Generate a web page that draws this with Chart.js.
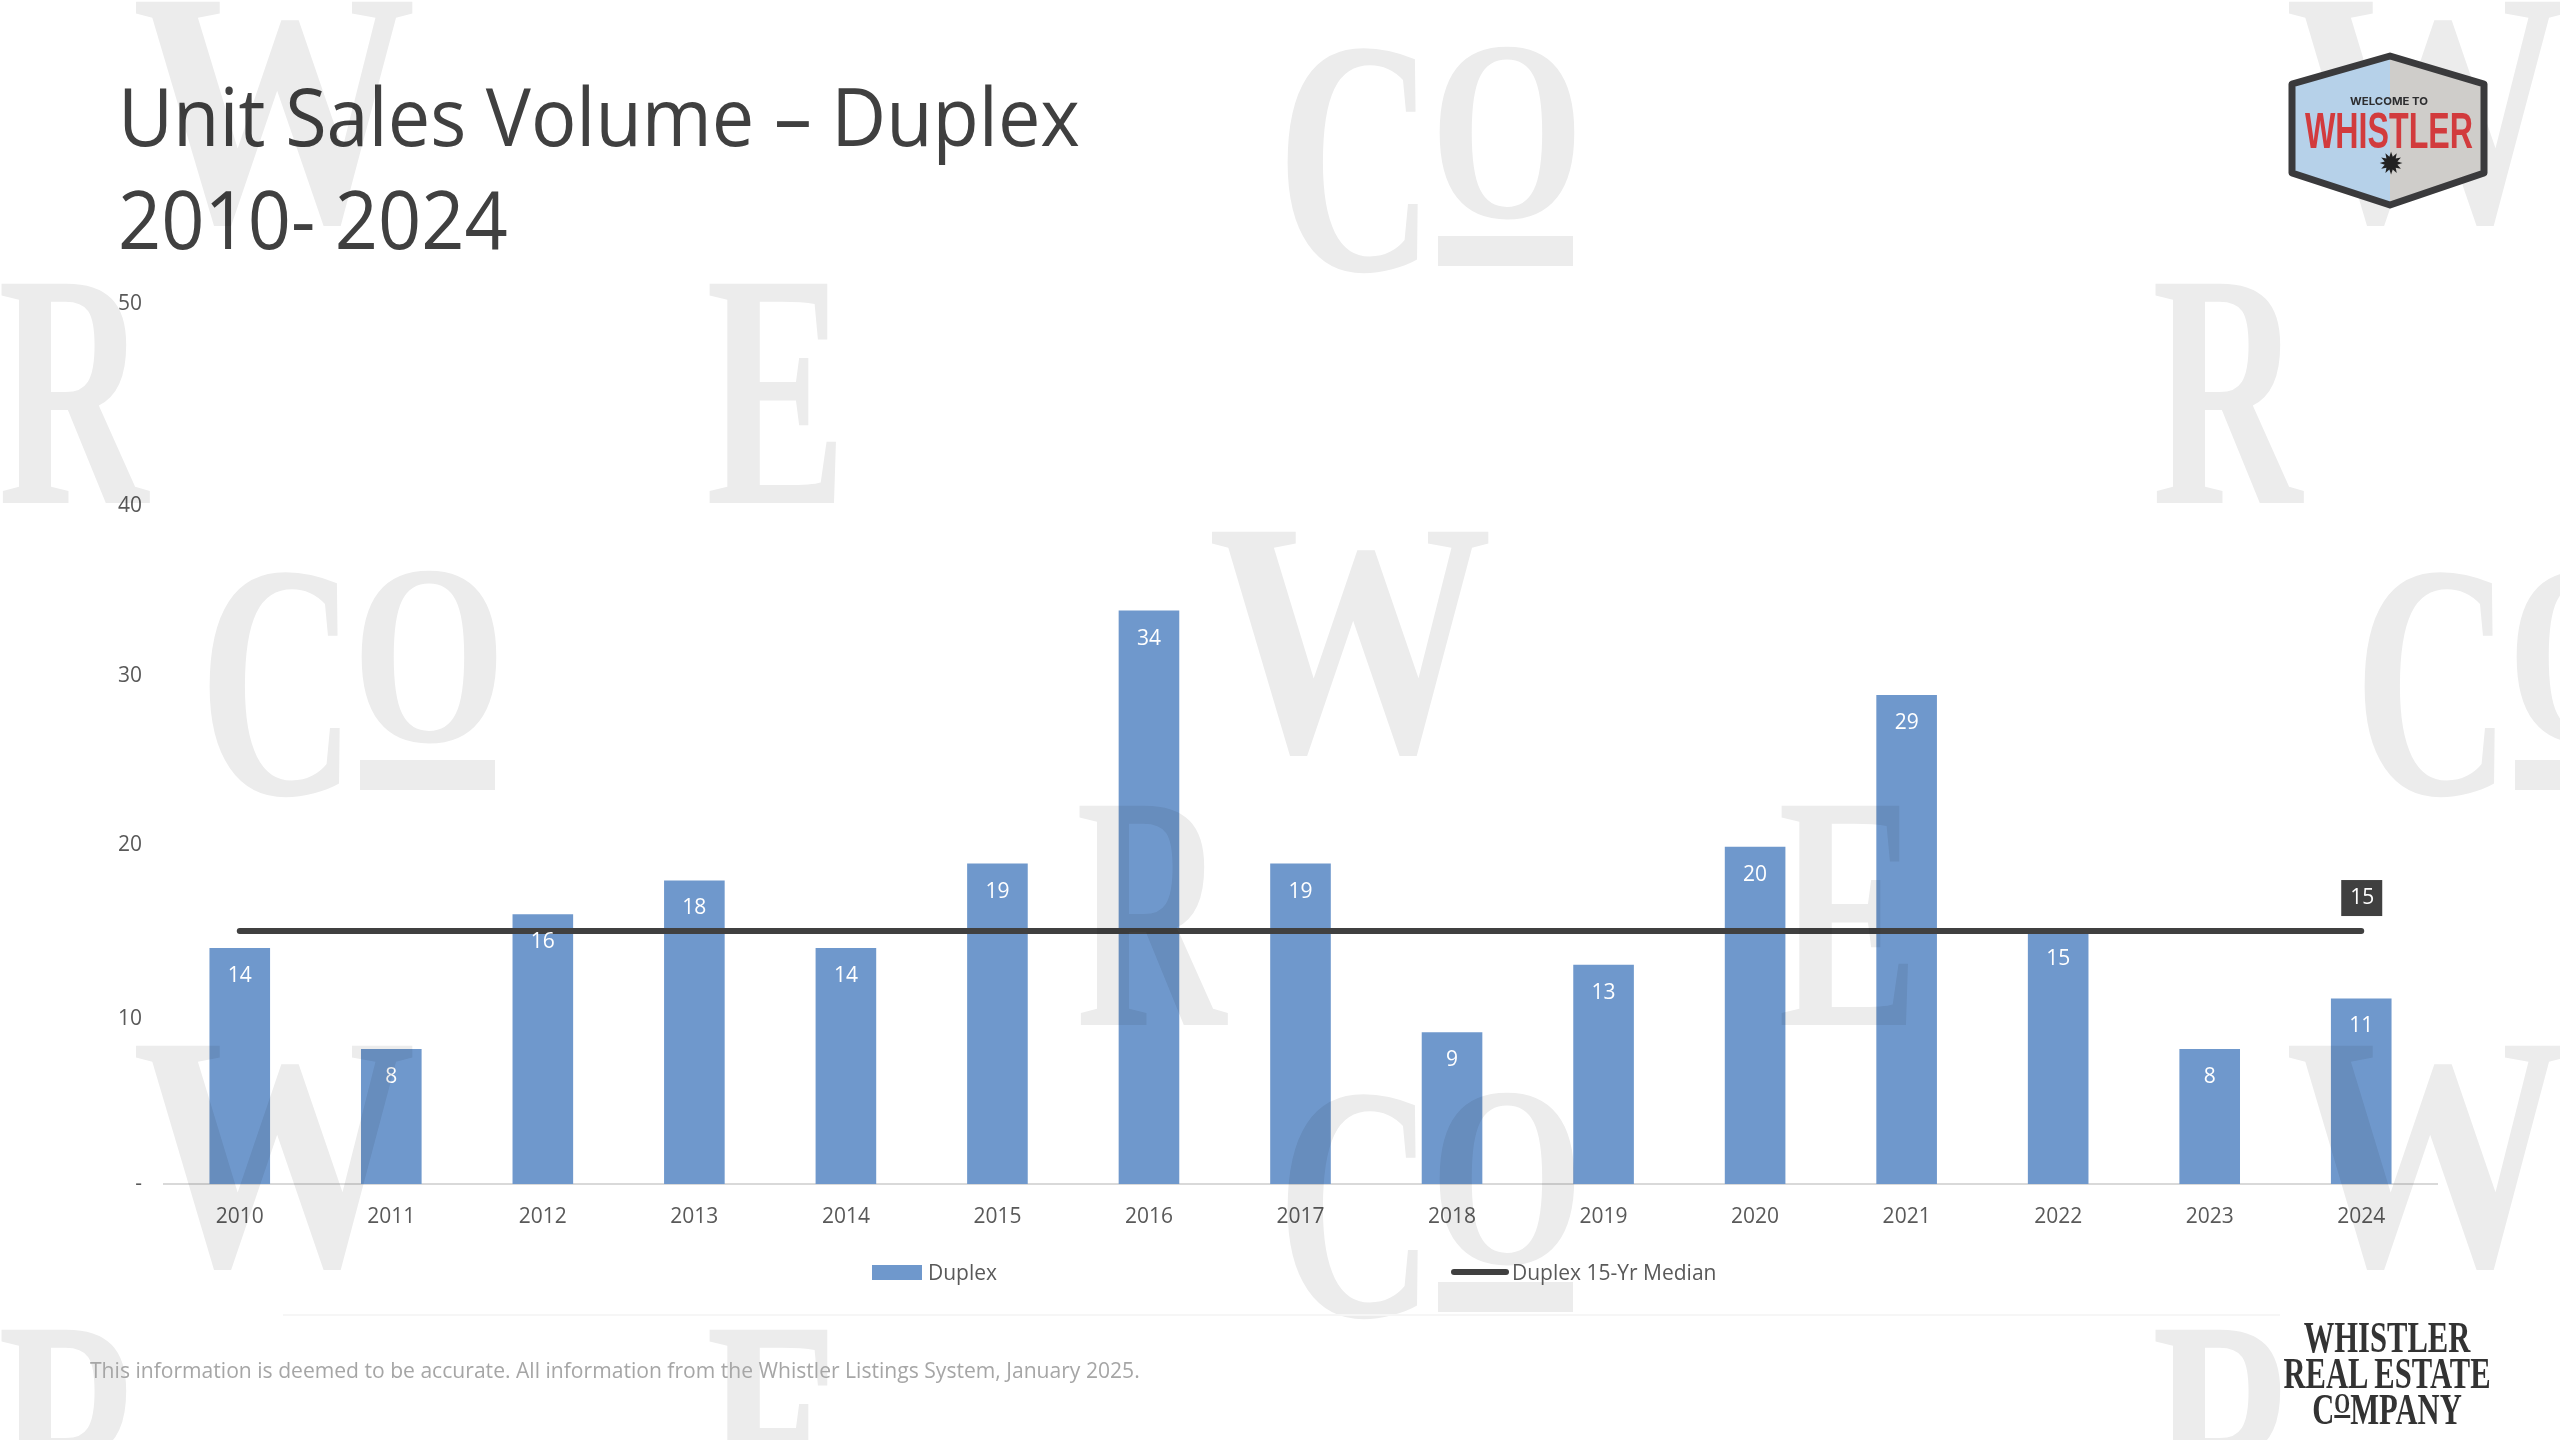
<!DOCTYPE html>
<html>
<head>
<meta charset="utf-8">
<title>Unit Sales Volume - Duplex</title>
<script src="https://cdn.jsdelivr.net/npm/chart.js@4"></script>
<style>
    html, body { margin: 0; padding: 0; background: #fff; overflow: hidden; }
    #page { position: relative; width: 2560px; height: 1440px; overflow: hidden; font-family: "Open Sans", sans-serif; }
    #chartBox { position: absolute; left: 0; top: 0; width: 2560px; height: 1440px; }
    #title { position: absolute; left: 118px; top: 63px; font-size: 80px; line-height: 103px; color: #404040; white-space: nowrap;
             transform-origin: 0 0; transform: scaleX(.945); }
    #rule { position: absolute; left: 283px; top: 1314px; width: 1997px; height: 2px; background: #f6f6f6; }
    #note { position: absolute; left: 90px; top: 1355px; font-size: 21.1px; color: #a6a6a6; white-space: nowrap; }
    .wm { position: absolute; font-family: "Liberation Serif", serif; font-weight: bold; font-size: 335px; line-height: 335px;
          color: #ececec; mix-blend-mode: multiply; transform-origin: 0 0; white-space: nowrap; }
    .wm .o { position: absolute; left: 153px; top: 13px; font-size: 257px; line-height: 257px; transform-origin: 0 0; transform: scaleX(.77); }
    .wm .c { position: absolute; left: 0; top: 0; transform-origin: 0 0; transform: scaleX(.65); }
    .wm .bar { position: absolute; left: 161px; top: 247px; width: 135px; height: 30px; background: #ececec; }
    .lg { position: absolute; top: 1258px; font-size: 21px; line-height: 28px; color: #595959; white-space: nowrap; }
    .lg i { position: absolute; display: block; }
    #brand { position: absolute; left: 2087px; top: 1319px; width: 600px; text-align: center; color: #333; white-space: nowrap;
             font-family: "Liberation Serif", serif; font-weight: bold; font-size: 45px; line-height: 36px; transform: scaleX(.68); }
    #brand u { font-size: 30px; line-height: 0; vertical-align: 11px; }
    #logo { position: absolute; left: 2285px; top: 50px; }
</style>
</head>
<body>
<div id="page">
    <div id="chartBox"><canvas id="Chart_Duplex"></canvas></div>
    <div id="title">Unit Sales Volume – Duplex<br>2010- 2024</div>
    <div id="watermarks"></div>
    <div id="legendBox"></div>
    <div id="rule"></div>
    <div id="note">This information is deemed to be accurate. All information from the Whistler Listings System, January 2025.</div>
    <svg id="logo" width="210" height="160" viewBox="0 0 210 160">
        <defs><clipPath id="hex"><polygon points="105,6 199,34 199,123 105,155 7,123 7,34"/></clipPath></defs>
        <g clip-path="url(#hex)">
            <rect x="0" y="0" width="105" height="160" fill="#b6d1e9"/>
            <rect x="105" y="0" width="105" height="160" fill="#cfcdca"/>
        </g>
        <polygon points="105,6 199,34 199,123 105,155 7,123 7,34" fill="none" stroke="#3a3a3c" stroke-width="7" stroke-linejoin="round"/>
        <text x="104" y="55" text-anchor="middle" font-family="Inter, sans-serif" font-weight="700" font-size="11" textLength="78" lengthAdjust="spacingAndGlyphs" fill="#2d2d2f">WELCOME TO</text>
        <text x="104" y="98" text-anchor="middle" font-family="Liberation Sans, sans-serif" font-weight="700" font-size="50" textLength="168" lengthAdjust="spacingAndGlyphs" fill="#d23b3d">WHISTLER</text>
        <text x="106" y="124" text-anchor="middle" font-family="DejaVu Sans, sans-serif" font-size="30" fill="#222">✹</text>
    </svg>
    <div id="brand">WHISTLER<br>REAL ESTATE<br>C<u>O</u>MPANY</div>
</div>

<script>
// Dữ liệu
const years = ['2010', '2011', '2012', '2013', '2014', '2015', '2016', '2017', '2018', '2019', '2020', '2021', '2022', '2023', '2024'];
const duplexSales = [14, 8, 16, 18, 14, 19, 34, 19, 9, 13, 20, 29, 15, 8, 11];
const duplexMedian = [15, 15, 15, 15, 15, 15, 15, 15, 15, 15, 15, 15, 15, 15, 15];
const yTickLabels = ['-', '10', '20', '30', '40', '50'];
// nhãn trục y trong ảnh gốc lệch nhẹ so với thang đo, nhất là số 50
const yTickSpots = [0, 9.8, 20.1, 30.1, 40.2, 52.2];

// Watermark chữ nền: [chữ, x, y]
const watermarks = [
    ['W', 132, -60], ['Co', 1277, -11], ['W', 2285, -60],
    ['R', -2, 222], ['E', 706, 222], ['R', 2152, 222],
    ['Co', 199, 513], ['W', 1208, 470], ['Co', 2354, 513],
    ['R', 1076, 744], ['E', 1778, 744],
    ['W', 132, 984], ['Co', 1277, 1035], ['W', 2285, 984],
    ['R', -2, 1268], ['E', 706, 1268], ['R', 2152, 1268]
];
const wmScale = { W: 0.85, R: 0.62, E: 0.63 };
var wmBox = document.getElementById('watermarks');
watermarks.forEach(function (item) {
    var el = document.createElement('div');
    el.className = 'wm';
    el.style.left = item[1] + 'px';
    el.style.top = item[2] + 'px';
    if (item[0] === 'Co') {
        el.innerHTML = '<span class="c">C</span><span class="o">O</span><span class="bar"></span>';
    } else {
        el.textContent = item[0];
        el.style.transform = 'scaleX(' + wmScale[item[0]] + ')';
    }
    wmBox.appendChild(el);
});

// plugin vẽ nhãn giá trị lên cột và nhãn cuối của đường trung vị
const valueLabels = {
    id: 'value_labels',
    afterDatasetsDraw: (chart) => {
        const ctx = chart.ctx;
        ctx.save();
        ctx.font = '21px "Open Sans"';
        ctx.textAlign = 'center';
        ctx.textBaseline = 'middle';
        ctx.fillStyle = '#ffffff';
        chart.getDatasetMeta(1).data.forEach(function (bar, i) {
            ctx.fillText(duplexSales[i], bar.x, bar.y + 28);
        });
        const last = chart.getDatasetMeta(0).data[duplexMedian.length - 1];
        ctx.fillStyle = '#404040';
        ctx.fillRect(last.x - 20, last.y - 51, 41, 36);
        ctx.fillStyle = '#ffffff';
        ctx.fillText(duplexMedian[duplexMedian.length - 1], last.x + 1, last.y - 33);
        ctx.restore();
    }
};

var Chart_Duplex = new Chart(document.getElementById('Chart_Duplex'), {
    data: {
        labels: years,
        datasets: [{
            type: 'line',
            label: 'Duplex 15-Yr Median',
            data: duplexMedian,
            borderColor: '#404040',
            borderWidth: 6,
            borderCapStyle: 'round',
            pointRadius: 0,
            order: 1
        }, {
            type: 'bar',
            label: 'Duplex',
            data: duplexSales,
            backgroundColor: '#6f98cc',
            barPercentage: 0.4,
            categoryPercentage: 1,
            order: 2
        }]
    },
    options: {
        responsive: true,
        maintainAspectRatio: false,
        animation: false,
        layout: {
            padding: { left: 104, right: 123, top: 302, bottom: 196 }
        },
        plugins: {
            legend: { display: false },
            title: { display: false },
            tooltip: { enabled: false }
        },
        scales: {
            x: {
                grid: { display: false },
                border: { color: '#d9d9d9', width: 2 },
                afterFit: function (scale) { scale.height = 60; },
                ticks: {
                    color: '#595959',
                    padding: 12,
                    maxRotation: 0,
                    font: { family: '"Open Sans"', size: 21 }
                }
            },
            y: {
                min: 0,
                max: 52.3,
                grid: { display: false },
                border: { display: false },
                afterFit: function (scale) { scale.width = 60; },
                afterBuildTicks: function (scale) {
                    scale.ticks = yTickSpots.map(function (v) { return { value: v }; });
                },
                ticks: {
                    color: '#595959',
                    padding: 14,
                    font: { family: '"Open Sans"', size: 21 },
                    callback: function (value, index) { return yTickLabels[index]; }
                }
            }
        }
    },
    plugins: [valueLabels]
});

// Legend HTML, lấy tên và màu từ dataset
function _BuildLegend() {
    var box = document.getElementById('legendBox');
    var bars = Chart_Duplex.data.datasets[1];
    var line = Chart_Duplex.data.datasets[0];
    box.innerHTML =
        '<div class="lg" style="left:928px"><i style="left:-56px;top:7px;width:50px;height:15px;background:' + bars.backgroundColor + '"></i>' + bars.label + '</div>' +
        '<div class="lg" style="left:1512px"><i style="left:-61px;top:11px;width:58px;height:6px;border-radius:3px;background:' + line.borderColor + '"></i>' + line.label + '</div>';
}
_BuildLegend();
</script>
</body>
</html>
